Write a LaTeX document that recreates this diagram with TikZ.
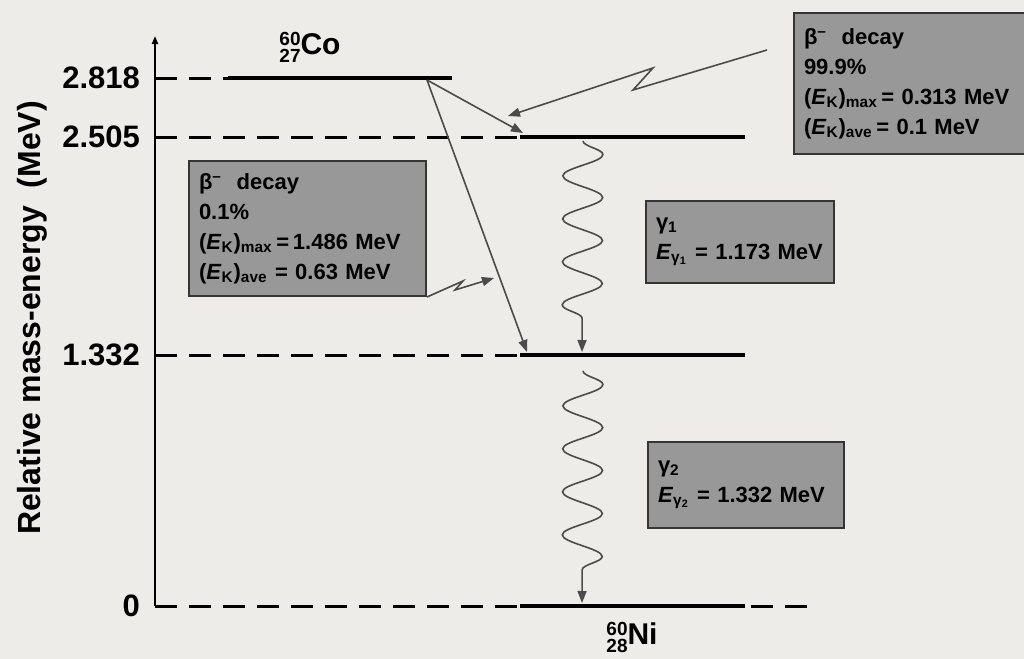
\documentclass[tikz,border=0pt]{standalone}
\usepackage{fontspec}
\setmainfont{Liberation Sans}
\usetikzlibrary{arrows.meta,decorations.pathmorphing,calc}
\definecolor{paper}{RGB}{237,236,232}
\definecolor{boxgray}{RGB}{152,152,152}
\definecolor{ink}{RGB}{75,75,75}
\newcommand{\nuclide}[3]{{\fontsize{9.5}{9.5}\selectfont\begin{tabular}[c]{@{}r@{}}#1\\[-1pt]#2\end{tabular}}#3}
\newcommand{\ek}[1]{(\textit{E}\textsubscript{K})\textsubscript{#1}}
\newcommand{\bminus}{β\textsuperscript{–}\ \ decay}

\begin{document}
\begin{tikzpicture}[x=0.5pt, y=-0.5pt, font=\bfseries,
	   lvl/.style={line width=2pt},
	   dsh/.style={line width=1.5pt, dash pattern=on 11pt off 6pt},
	   tick/.style={anchor=east, font=\fontsize{15.5}{15.5}\selectfont\bfseries},
	   info/.style={draw=ink!70!black, line width=1pt, fill=boxgray, anchor=north west,
	     align=left, inner xsep=5pt, inner ysep=0pt, font=\fontsize{11}{15}\selectfont\bfseries},
	   ptr/.style={-{Triangle[length=6pt,width=4.5pt]}, draw=ink, line width=0.8pt},
	   wave/.style={ptr, decorate, decoration={snake, amplitude=10pt, segment length=21.5pt, post length=14pt}}]
	  \useasboundingbox (0,0) rectangle (1024,659);
	  \clip (0,0) rectangle (1024,659);
	  \fill[paper] (0,0) rectangle (1024,659);
	  % energy axis
	  \coordinate (ax0) at (155,606);
	  \coordinate (axtop) at (155,36);
	  \draw[-{Triangle[length=4pt,width=3pt]}, line width=1pt] (ax0) -- (axtop);
	  \node[rotate=90, font=\fontsize{16}{16}\selectfont\bfseries] (ylab) at (32,318) {Relative mass-energy\ \ (MeV)};
	  \foreach \y/\t/\n in {78/2.818/a, 137/2.505/b, 355/1.332/c, 606/0/d}
	    \node[tick] (lab\n) at (147,\y) {\t};
	  % levels
	  \coordinate (coL) at (228,78);   \coordinate (coR) at (452,78);
	  \coordinate (l1L) at (520,137);  \coordinate (l1R) at (745,137);
	  \coordinate (l2L) at (520,355);  \coordinate (l2R) at (745,355);
	  \coordinate (l3L) at (520,606);  \coordinate (l3R) at (745,606);
	  \coordinate (l3D) at (810,606);
	  \draw[dsh] (155,78) -- (coL);
	  \draw[dsh] (155,137) -- (l1L);
	  \draw[dsh] (155,355) -- (l2L);
	  \draw[dsh] (155,606) -- (l3L);
	  \draw[dsh] ($(l3R)+(6,0)$) -- (l3D);
	  \draw[lvl] (coL) -- (coR);
	  \draw[lvl] (l1L) -- (l1R);
	  \draw[lvl] (l2L) -- (l2R);
	  \draw[lvl] (l3L) -- (l3R);
	  \node[font=\fontsize{15}{15}\selectfont\bfseries] (co) at (310,50) {\nuclide{60}{27}{Co}};
	  \node[font=\fontsize{15}{15}\selectfont\bfseries] (ni) at (632,640) {\nuclide{60}{28}{Ni}};
	  % transitions
	  \coordinate (src) at (427,80);
	  \draw[ptr] (src) -- (523,133);
	  \draw[ptr] (src) -- (527,352);
	  \draw[wave] (583,141) -- (582,352);
	  \draw[wave] (583,371) -- (582,603);
	  % info boxes
	  \node[info, text width=125pt, minimum height=70.5pt] (b999) at (793,12)
	    {\bminus\\ 99.9\%\\ \ek{max}\,= 0.313 MeV\\ \ek{ave}\,= 0.1 MeV};
	  \node[info, text width=108.5pt, minimum height=67.5pt] (b01) at (188,160)
	    {\bminus\\ 0.1\%\\ \ek{max}\,=\,1.486 MeV\\ \ek{ave} = 0.63 MeV};
	  \node[info, text width=84pt, minimum height=41pt] (g1) at (645,200)
	    {γ\textsubscript{1}\\ \textit{E}\textsubscript{γ\textsubscript{1}} = 1.173 MeV};
	  \node[info, text width=88pt, minimum height=43pt] (g2) at (647,441)
	    {γ\textsubscript{2}\\ \textit{E}\textsubscript{γ\textsubscript{2}} = 1.332 MeV};
	  % pointers from the boxes
	  \draw[ptr] ($(b999.north west)+(-26,38)$) -- (633,90) -- (653,68) -- (508,116);
	  \draw[ptr] (b01.south east) -- (463,281) -- (455,290) -- (494,278);
	\end{tikzpicture}
\end{document}
